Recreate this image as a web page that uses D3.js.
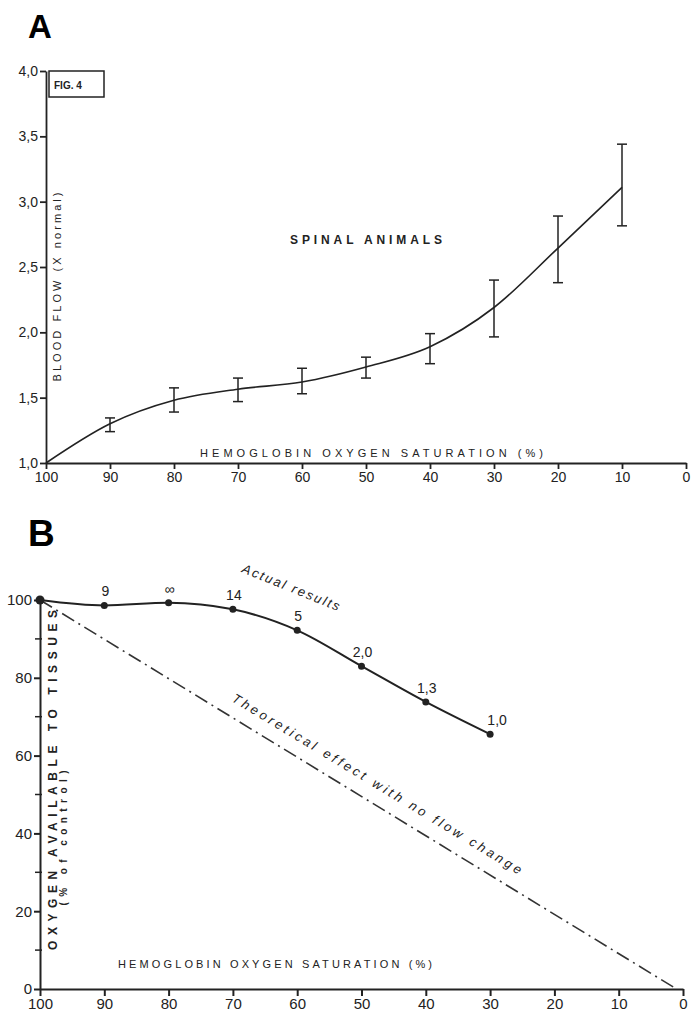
<!DOCTYPE html>
<html>
<head>
<meta charset="utf-8">
<script src="https://cdn.jsdelivr.net/npm/d3@7"></script>
<style>
  body { margin: 0; background: #fff; }
  svg { display: block; font-family: "Liberation Sans", Arial, sans-serif; }
  .axis path, .axis line { stroke: #222; }
  .axis text { fill: #222; font-size: 14px; }
</style>
</head>
<body>
<svg id="chart" width="693" height="1017"></svg>
<script>
// panel A: blood flow vs saturation
const satA = [100, 90, 80, 70, 60, 50, 40, 30, 20, 10];
const flowA = [1.0, 1.30, 1.48, 1.565, 1.62, 1.735, 1.89, 2.19, 2.645, 3.11];
const flowLo = [null, 1.24, 1.39, 1.47, 1.53, 1.65, 1.76, 1.965, 2.38, 2.815];
const flowHi = [null, 1.345, 1.575, 1.65, 1.725, 1.81, 1.99, 2.40, 2.89, 3.44];
const ticksA_y = [1.0, 1.5, 2.0, 2.5, 3.0, 3.5, 4.0];
const ticksX = [100, 90, 80, 70, 60, 50, 40, 30, 20, 10, 0];

// panel B: oxygen available
const satB = [100, 90, 80, 70, 60, 50, 40, 30];
const oxyB = [100, 98.6, 99.3, 97.6, 92.2, 83, 73.8, 65.5];
const ptLabels = ["", "9", "∞", "14", "5", "2,0", "1,3", "1,0"];
const theoSat = [100, 1];
const theoOxy = [100, 0];
const ticksB_y = [0, 20, 40, 60, 80, 100];
const minorB_y = [10, 30, 50, 70, 90];

const svg = d3.select("#chart");
const ink = "#222";
const comma = d => d3.format(".1f")(d).replace(".", ",");

// ---------- A ----------
const xA = d3.scaleLinear().domain([100, 0]).range([46, 686]);
const yA = d3.scaleLinear().domain([1, 4]).range([463, 71]);

svg.append("text").attr("x", 28).attr("y", 38)
  .style("font-size", "33px").style("font-weight", "bold").style("font-family", "Liberation Sans, Arial")
  .text("A");

svg.append("g").attr("class", "axis")
  .attr("transform", "translate(0," + yA(1) + ")")
  .call(d3.axisBottom(xA).tickValues(ticksX).tickSize(6).tickSizeOuter(0).tickPadding(3))
  .call(g => g.selectAll("path, line").attr("stroke-width", 1.8));

svg.append("g").attr("class", "axis")
  .attr("transform", "translate(" + xA(100) + ",0)")
  .call(d3.axisLeft(yA).tickValues(ticksA_y).tickFormat(comma).tickSize(6).tickSizeOuter(0).tickPadding(2))
  .call(g => g.selectAll("path, line").attr("stroke-width", 1.8))
  .call(g => g.selectAll("text").style("font-size", "14px"));

// FIG. 4 box
svg.append("rect").attr("x", 49).attr("y", 71).attr("width", 55).attr("height", 26)
  .attr("fill", "none").attr("stroke", ink).attr("stroke-width", 1.5);
svg.append("text").attr("x", 54).attr("y", 89)
  .style("font-size", "10px").style("font-weight", "bold").attr("fill", ink).text("FIG. 4");

const lineA = d3.line().x((d, i) => xA(satA[i])).y(d => yA(d)).curve(d3.curveMonotoneX);
svg.append("path").datum(flowA).attr("d", lineA)
  .attr("fill", "none").attr("stroke", ink).attr("stroke-width", 1.6);

const bars = svg.append("g").attr("stroke", ink).attr("stroke-width", 1.5);
satA.forEach((s, i) => {
  if (flowLo[i] == null) return;
  const x = xA(s);
  bars.append("line").attr("x1", x).attr("x2", x).attr("y1", yA(flowLo[i])).attr("y2", yA(flowHi[i]));
  bars.append("line").attr("x1", x - 5).attr("x2", x + 5).attr("y1", yA(flowLo[i])).attr("y2", yA(flowLo[i]));
  bars.append("line").attr("x1", x - 5).attr("x2", x + 5).attr("y1", yA(flowHi[i])).attr("y2", yA(flowHi[i]));
});

svg.append("text").attr("x", 290).attr("y", 244)
  .attr("textLength", 152).attr("lengthAdjust", "spacing")
  .style("font-size", "12px").style("font-weight", "bold").attr("fill", ink)
  .text("SPINAL ANIMALS");

svg.append("text").attr("x", 200).attr("y", 457)
  .attr("textLength", 343).attr("lengthAdjust", "spacing")
  .style("font-size", "11px").attr("fill", ink)
  .text("HEMOGLOBIN OXYGEN SATURATION (%)");

svg.append("text").attr("transform", "translate(61,287) rotate(-90)")
  .attr("text-anchor", "middle").attr("textLength", 189).attr("lengthAdjust", "spacing")
  .style("font-size", "11px").attr("fill", ink)
  .text("BLOOD FLOW (X normal)");

// ---------- B ----------
const xB = d3.scaleLinear().domain([100, 0]).range([40, 683]);
const yB = d3.scaleLinear().domain([0, 100]).range([989, 600]);

svg.append("text").attr("x", 28).attr("y", 546)
  .style("font-size", "37px").style("font-weight", "bold").style("font-family", "Liberation Sans, Arial")
  .text("B");

svg.append("g").attr("class", "axis")
  .attr("transform", "translate(0," + yB(0) + ")")
  .call(d3.axisBottom(xB).tickValues(ticksX).tickSize(7).tickSizeOuter(0).tickPadding(2))
  .call(g => g.selectAll("path, line").attr("stroke-width", 2))
  .call(g => g.selectAll("text").style("font-size", "15px"));

svg.append("g").attr("class", "axis")
  .attr("transform", "translate(" + xB(100) + ",0)")
  .call(d3.axisLeft(yB).tickValues(ticksB_y).tickSize(6).tickSizeOuter(0).tickPadding(2))
  .call(g => g.selectAll("path, line").attr("stroke-width", 2))
  .call(g => g.selectAll("text").style("font-size", "15px"));

svg.append("g").selectAll("line").data(minorB_y).join("line")
  .attr("x1", xB(100) - 5).attr("x2", xB(100) + 2)
  .attr("y1", d => yB(d)).attr("y2", d => yB(d))
  .attr("stroke", ink).attr("stroke-width", 1.5);

// theoretical line
const lineT = d3.line().x((d, i) => xB(theoSat[i])).y(d => yB(d));
svg.append("path").datum(theoOxy).attr("d", lineT)
  .attr("fill", "none").attr("stroke", "#333").attr("stroke-width", 1.6)
  .attr("stroke-dasharray", "14,5,2,5");

// actual results
const lineB = d3.line().x((d, i) => xB(satB[i])).y(d => yB(d)).curve(d3.curveMonotoneX);
svg.append("path").datum(oxyB).attr("d", lineB)
  .attr("fill", "none").attr("stroke", ink).attr("stroke-width", 2);

svg.append("g").selectAll("circle").data(oxyB).join("circle")
  .attr("cx", (d, i) => xB(satB[i])).attr("cy", d => yB(d))
  .attr("r", (d, i) => i === 0 ? 4.5 : 3.5).attr("fill", ink);

svg.append("g").selectAll("text").data(ptLabels).join("text")
  .attr("x", (d, i) => xB(satB[i]) + (i === 7 ? 7 : 1))
  .attr("y", (d, i) => yB(oxyB[i]) - 9)
  .attr("text-anchor", "middle").style("font-size", "14px").attr("fill", ink)
  .text(d => d);

svg.append("text").attr("transform", "translate(241,572) rotate(22)")
  .attr("textLength", 104).attr("lengthAdjust", "spacing")
  .style("font-size", "13px").style("font-style", "italic").attr("fill", ink)
  .text("Actual results");

const ang = Math.atan2(yB(0) - yB(100), xB(0) - xB(100)) * 180 / Math.PI;
svg.append("text")
  .attr("transform", "translate(" + (xB(70) - 2) + "," + (yB(70) - 16) + ") rotate(" + ang + ")")
  .attr("textLength", 336).attr("lengthAdjust", "spacing")
  .style("font-size", "13px").style("font-style", "italic").attr("fill", ink)
  .text("Theoretical effect with no flow change");

svg.append("text").attr("x", 118).attr("y", 968)
  .attr("textLength", 314).attr("lengthAdjust", "spacing")
  .style("font-size", "11px").attr("fill", ink)
  .text("HEMOGLOBIN OXYGEN SATURATION (%)");

svg.append("text").attr("transform", "translate(57,780) rotate(-90)")
  .attr("text-anchor", "middle").attr("textLength", 340).attr("lengthAdjust", "spacing")
  .style("font-size", "12px").style("font-weight", "bold").attr("fill", ink)
  .text("OXYGEN AVAILABLE TO TISSUES");

svg.append("text").attr("transform", "translate(67,838) rotate(-90)")
  .attr("text-anchor", "middle").attr("textLength", 135).attr("lengthAdjust", "spacing")
  .style("font-size", "10px").style("font-weight", "bold").attr("fill", ink)
  .text("(% of control)");
</script>
</body>
</html>
